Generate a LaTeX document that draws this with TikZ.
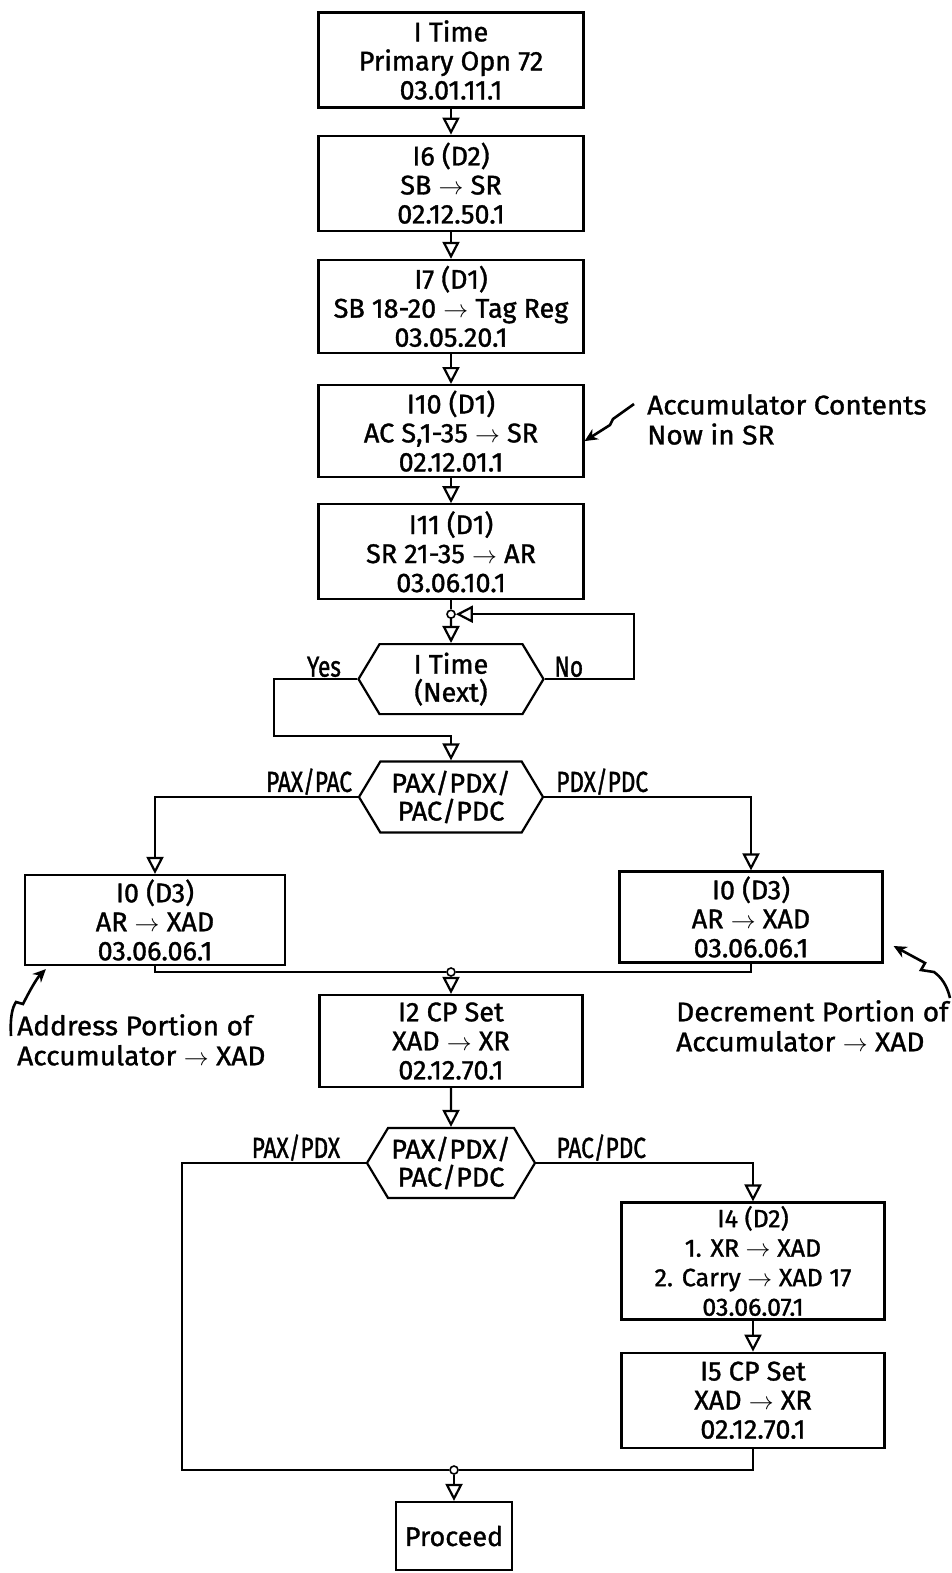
\documentclass[tikz,border=0pt]{standalone}
\usepackage{fontspec}
\setmainfont{Fira Sans}[FakeBold=1.2]
\newfontfamily\labelfont{Fira Sans}[FakeStretch=0.78,FakeBold=1.2]
\newfontfamily\notefont{Fira Sans}[FakeStretch=1.04,FakeBold=1.2]
\usepackage{tikz}
\usetikzlibrary{shapes.geometric,shapes.symbols,arrows.meta,positioning}
\tikzstyle{process} = [rectangle, minimum width=265pt, minimum height=95pt, inner sep=0pt, align=center, draw=black, line width=2.2pt, font=\fontsize{27}{29}\selectfont]
\tikzstyle{decision} = [signal, signal to=east and west, signal pointer angle=118, minimum width=185pt, minimum height=70pt, inner sep=0pt, align=center, draw=black, line width=2.2pt, font=\fontsize{27}{28}\selectfont]
\tikzstyle{junction} = [circle, draw=black, fill=white, inner sep=0pt, minimum size=8pt, line width=1.6pt]
\tikzstyle{arrow} = [line width=2.2pt, -{Triangle[open,length=17pt,width=17pt]}]
\tikzstyle{line} = [line width=2.2pt]
\tikzstyle{branch} = [font=\labelfont\fontsize{29}{29}\selectfont, inner sep=1pt]
\tikzstyle{note} = [align=left, inner sep=0pt, font=\notefont\fontsize{27}{30}\selectfont]
\tikzstyle{zap} = [line width=2.6pt, -{Stealth[length=13pt,width=12pt]}]

\begin{document}
\begin{tikzpicture}[x=1pt,y=-1pt]
        \useasboundingbox (0,0) rectangle (952,1573);
        \node (opn72) [process] at (451,60) {I Time\\Primary Opn 72\\03.01.11.1};
        \node (i6) [process, below = 26pt of opn72] {I6 (D2)\\SB $\to$ SR\\02.12.50.1};
        \node (i7) [process, below = 27pt of i6, minimum height=93pt] {I7 (D1)\\SB 18-20 $\to$ Tag Reg\\03.05.20.1};
        \node (i10) [process, below = 30pt of i7, minimum height=92pt] {I10 (D1)\\AC S,1-35 $\to$ SR\\02.12.01.1};
        \node (i11) [process, below = 25pt of i10] {I11 (D1)\\SR 21-35 $\to$ AR\\03.06.10.1};
        \node (dot1) [junction, below = 9pt of i11] {};
        \node (itime) [decision, below = 24pt of dot1] {I Time\\(Next)};
        \node (hexsel) [decision, minimum width=184pt, minimum height=71pt] at (451,797) {PAX/PDX/\\PAC/PDC};
        \node (addr) [process, minimum width=260pt, minimum height=90pt] at (155,920) {I0 (D3)\\AR $\to$ XAD\\03.06.06.1};
        \node (decr) [process, minimum width=263pt, minimum height=91pt] at (751,917) {I0 (D3)\\AR $\to$ XAD\\03.06.06.1};
        \node (dot2) [junction] at (451,972) {};
        \node (i2) [process, minimum width=263pt, minimum height=92pt] at (451,1041) {I2 CP Set\\XAD $\to$ XR\\02.12.70.1};
        \node (hexidx) [decision, minimum width=168pt, minimum height=70pt] at (451,1163) {PAX/PDX/\\PAC/PDC};
        \node (i4) [process, minimum width=263pt, minimum height=117pt, font=\fontsize{25}{29.5}\selectfont] at (753,1261) {I4 (D2)\\1. XR $\to$ XAD\\2. Carry $\to$ XAD 17\\03.06.07.1};
        \node (i5) [process, minimum width=263pt, below = 31pt of i4] {I5 CP Set\\XAD $\to$ XR\\02.12.70.1};
        \node (dot3) [junction] at (454,1470) {};
        \node (proceed) [process, minimum width=116pt, minimum height=68pt] at (454,1536) {Proceed};

        % side notes
        \node (noteac) [note, anchor=north west] at (647,394) {Accumulator Contents\\Now in SR};
        \node (noteaddr) [note, anchor=north west] at (17,1014) {Address Portion of\\Accumulator $\to$ XAD};
        \node (notedec) [note, anchor=north west] at (676,1000) {Decrement Portion of\\Accumulator $\to$ XAD};
        \coordinate (zapac) at (634,404);
        \coordinate (zapaddr) at (11,1036);
        \coordinate (zapdec) at (950,998);
        \coordinate (yesbend) at (274,736);
        \coordinate (dropL) at (182,1470);

        \draw [arrow] (opn72) -- (i6);
        \draw [arrow] (i6) -- (i7);
        \draw [arrow] (i7) -- (i10);
        \draw [arrow] (i10) -- (i11);
        \draw [line] (i11) -- (dot1);
        \draw [arrow] (dot1) -- (itime);
        \draw [arrow] (itime.east) -- node[branch, above, pos=0.27] {No} ++(89,0) |- (dot1);
        \draw [arrow] (itime.west) -| node[branch, above, pos=0.2] {Yes} (yesbend) -| (hexsel.north);
        \draw [arrow] (hexsel.west) -| node[branch, above, pos=0.12] {PAX/PAC} (addr.north);
        \draw [arrow] (hexsel.east) -| node[branch, above, pos=0.14] {PDX/PDC} (decr.north);
        \draw [line] (addr.south) |- (dot2);
        \draw [line] (decr.south) |- (dot2);
        \draw [arrow] (dot2) -- (i2);
        \draw [arrow] (i2) -- (hexidx);
        \draw [line] (hexidx.west) -| node[branch, above, pos=0.19] {PAX/PDX} (dropL) -- (dot3);
        \draw [arrow] (hexidx.east) -| node[branch, above, pos=0.15] {PAC/PDC} (i4.north);
        \draw [arrow] (i4) -- (i5);
        \draw [line] (i5.south) |- (dot3);
        \draw [arrow] (dot3) -- (proceed);

        \draw [zap] (zapac) -- (613,419) -- (610,425) -- ([yshift=-10pt]i10.east);
        \draw [zap] (zapaddr) .. controls (10,1018) and (12,1008) .. (16,1002) -- (23,1004) .. controls (30,990) and (37,978) .. ([xshift=22pt,yshift=-3pt]addr.south west);
        \draw [zap] (zapdec) .. controls (947,985) and (941,977) .. (934,972) -- (921,970) -- (925,963) -- ([xshift=10pt,yshift=-29pt]decr.east);
    \end{tikzpicture}
\end{document}
